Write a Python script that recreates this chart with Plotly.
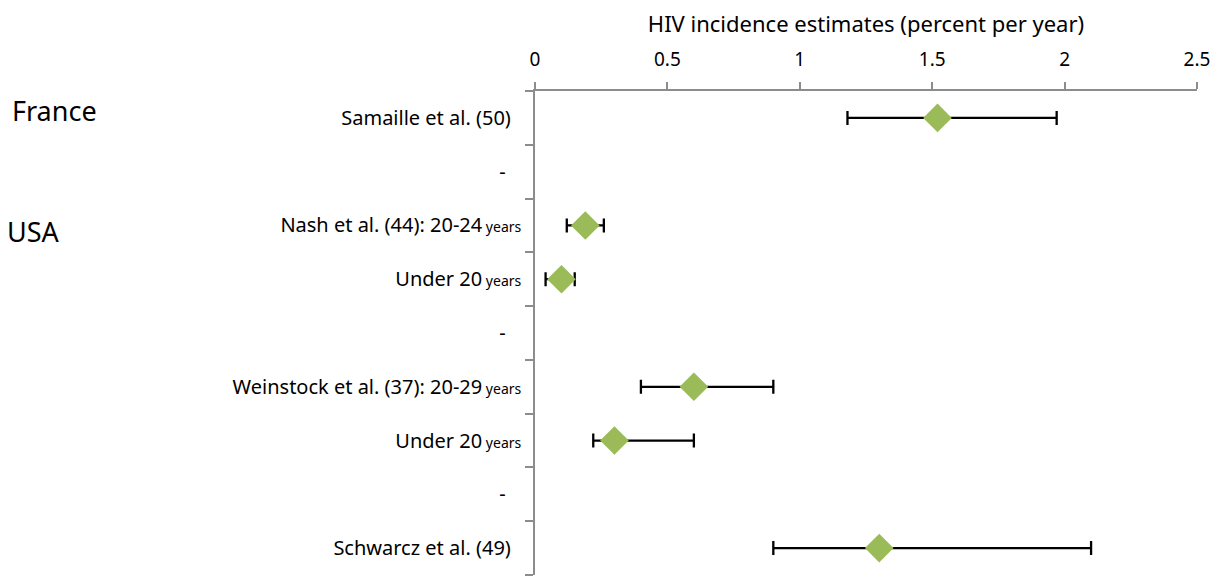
import plotly.graph_objects as go

YRS = "<span style='font-size:14px'> years</span>"
studies = [
    "Samaille et al. (50)&nbsp;&nbsp;",
    "-&nbsp;&nbsp;&nbsp;",
    "Nash et al. (44): 20-24" + YRS,
    "Under 20" + YRS,
    "-&nbsp;&nbsp;&nbsp;",
    "Weinstock et al. (37): 20-29" + YRS,
    "Under 20" + YRS,
    "-&nbsp;&nbsp;&nbsp;",
    "Schwarcz et al. (49)&nbsp;&nbsp;",
]
estimate = [1.52, None, 0.19, 0.10, None, 0.60, 0.30, None, 1.30]
lower = [1.18, None, 0.12, 0.04, None, 0.40, 0.22, None, 0.90]
upper = [1.97, None, 0.26, 0.15, None, 0.90, 0.60, None, 2.10]
x_ticks = [0, 0.5, 1, 1.5, 2, 2.5]
x_tick_labels = ["0", "0.5", "1", "1.5", "2", "2.5"]
groups = ["France", "USA"]

rows = list(range(len(studies)))
err_plus = [None if e is None else round(u - e, 4) for e, u in zip(estimate, upper)]
err_minus = [None if e is None else round(e - l, 4) for e, l in zip(estimate, lower)]

FONT = "Noto Sans"
GRAY = "#8c8c8c"

# page body has an 8px margin; compensate so the plot area lands at 535..1197 x 91..575
W, H = 1214, 569
ML, MR, MT, MB = 527, 25, 83, 2
PW = W - ML - MR
PH = H - MT - MB
OFF = 8


def px_x(px):
    return (px - OFF - ML) / PW


def px_y(py):
    return (H - MB + OFF - py) / PH


fig = go.Figure()
fig.add_trace(go.Scatter(
    x=estimate, y=rows, mode="markers",
    marker=dict(symbol="diamond", size=22, color="#9bbb59"),
    error_x=dict(type="data", symmetric=False, array=err_plus, arrayminus=err_minus,
                 color="black", thickness=2.3, width=7),
    showlegend=False,
))

fig.update_layout(
    width=W, height=H,
    margin=dict(l=ML, r=MR, t=MT, b=MB, autoexpand=False),
    paper_bgcolor="white", plot_bgcolor="white",
    font=dict(family=FONT, color="black"),
    xaxis=dict(
        side="top", range=[0, 2.5], tickvals=x_ticks, ticktext=x_tick_labels,
        showgrid=False, zeroline=False, showline=True, linecolor=GRAY, linewidth=1.5,
        ticks="outside", ticklen=7, tickcolor=GRAY, tickwidth=1.5,
        tickfont=dict(size=19, family=FONT), ticklabelstandoff=9,
        title=dict(text="HIV incidence estimates (percent per year)",
                   font=dict(size=22, family=FONT), standoff=18),
    ),
    yaxis=dict(
        range=[len(studies) - 0.5, -0.5], tickvals=rows, ticktext=studies,
        showgrid=False, zeroline=False, showline=True, linecolor=GRAY, linewidth=1.5,
        ticks="", tickfont=dict(size=20, family=FONT), ticklabelstandoff=8,
        minor=dict(tickvals=[r - 0.5 for r in rows] + [len(studies) - 0.5],
                   ticks="outside", ticklen=8, tickcolor=GRAY, tickwidth=1.5, showgrid=False),
    ),
)

fig.add_annotation(text=groups[0], xref="paper", yref="paper", x=px_x(10), y=px_y(110),
                   xanchor="left", yanchor="middle", showarrow=False,
                   font=dict(size=27, family=FONT))
fig.add_annotation(text=groups[1], xref="paper", yref="paper", x=px_x(5), y=px_y(231),
                   xanchor="left", yanchor="middle", showarrow=False,
                   font=dict(size=27, family=FONT))

fig.write_html("out.html")
